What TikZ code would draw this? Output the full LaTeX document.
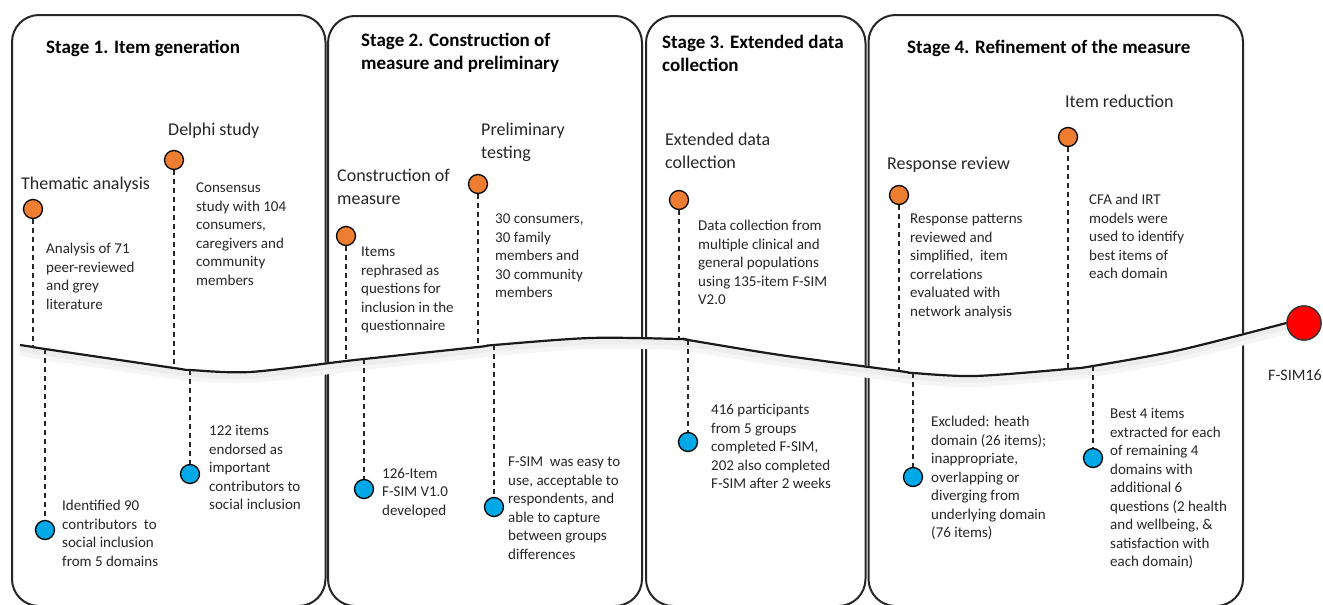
\documentclass[tikz,border=0pt]{standalone}
\usepackage{fontspec}
\setmainfont{Carlito}
\definecolor{pinorange}{RGB}{237,125,49}
\definecolor{pinblue}{RGB}{0,168,232}
\tikzset{
  panel/.style={draw=black!85, line width=2pt, rounded corners=27pt},
  opin/.style={circle, draw=black, line width=1.3pt, fill=pinorange, minimum size=19pt, inner sep=0pt},
  bpin/.style={circle, draw=black, line width=1.3pt, fill=pinblue, minimum size=19pt, inner sep=0pt},
  endpin/.style={circle, draw=black!80, line width=1.3pt, fill=red, minimum size=34pt, inner sep=0pt},
  dashline/.style={line width=1.7pt, dash pattern=on 5pt off 4pt, black!85},
  stagehead/.style={anchor=north west, inner sep=0pt, align=left, font=\fontsize{19}{23}\selectfont\bfseries, execute at begin node=\strut},
  subhead/.style={anchor=north west, inner sep=0pt, align=left, font=\fontsize{18}{23}\selectfont, text=black!85, execute at begin node=\strut},
  info/.style={anchor=north west, inner sep=0pt, yshift=-3pt, align=left, font=\fontsize{15}{18.5}\selectfont, text=black!85, execute at begin node=\strut},
}
\begin{document}
\begin{tikzpicture}[x=1pt, y=-1pt]
  \useasboundingbox (0,0) rectangle (1323,605);
  % stage panels
  \draw[panel] (12,15) rectangle (325.5,606);
  \draw[panel] (328,16) rectangle (642,606);
  \draw[panel] (646,16) rectangle (865.5,606);
  \draw[panel] (868.5,15) rectangle (1243,606);
  \node[stagehead] (h1) at (46,37) {Stage 1. Item generation};
  \node[stagehead] (h2) at (361,33) {Stage 2. Construction of\\measure and preliminary};
  \node[stagehead] (h3) at (662,35) {Stage 3. Extended data\\collection};
  \node[stagehead] (h4) at (907,37) {Stage 4. Refinement of the measure};
  % points on the timeline
  \coordinate (t1a) at (33,347);
  \coordinate (t1b) at (45,349);
  \coordinate (t1c) at (174,368);
  \coordinate (t1d) at (190,370);
  \coordinate (t2a) at (346,361);
  \coordinate (t2b) at (364,359);
  \coordinate (t2c) at (478,347);
  \coordinate (t2d) at (494,345);
  \coordinate (t3a) at (679,339);
  \coordinate (t3b) at (688,340);
  \coordinate (t4a) at (899,371);
  \coordinate (t4b) at (913,373);
  \coordinate (t4c) at (1068,369);
  \coordinate (t4d) at (1093,366);
  \node[endpin] (fsim) at (1304,323) {};
  % timeline with its soft shadow
  \draw[line width=2.2pt, black!90,
        preaction={draw, line width=12pt, black!4, transform canvas={yshift=-5pt}},
        preaction={draw, line width=5pt, black!7, transform canvas={yshift=-4pt}}]
    plot[smooth] coordinates {(20,345) (t1a) (t1b) (t1c) (t1d) (250,372) (t2a) (t2b)
      (t2c) (t2d) (590,338) (t3a) (t3b) (780,355) (t4a) (t4b) (975,376) (t4c) (t4d)
      (1180,350) (fsim.west)};
  \node[endpin] at (fsim) {};
  \node[font=\fontsize{16}{19}\selectfont, text=black!85, inner sep=0pt] (flabel) at (1295,375) {F-SIM16};
  % stage 1
  \node[opin] (p1a) at (33,209) {};
  \node[subhead] (s1a) at (21,173) {Thematic analysis};
  \node[info] (d1a) at (46,240) {Analysis of 71\\peer-reviewed\\and grey\\literature};
  \node[bpin] (b1a) at (45,530) {};
  \node[info] (e1a) at (62,497) {Identified 90\\contributors\ \ to\\social inclusion\\from 5 domains};
  \draw[dashline] (p1a) -- (t1a);
  \draw[dashline] (t1b) -- (b1a);
  \node[opin] (p1b) at (174,160) {};
  \node[subhead] (s1b) at (168,119) {Delphi study};
  \node[info] (d1b) at (196,180) {Consensus\\study with 104\\consumers,\\caregivers and\\community\\members};
  \node[bpin] (b1b) at (190,474) {};
  \node[info] (e1b) at (209,422) {122 items\\endorsed as\\important\\contributors to\\social inclusion};
  \draw[dashline] (p1b) -- (t1c);
  \draw[dashline] (t1d) -- (b1b);
  % stage 2
  \node[opin] (p2a) at (346,236) {};
  \node[subhead] (s2a) at (337,169) {Construction of\\measure};
  \node[info] (d2a) at (361,244) {Items\\rephrased as\\questions for\\inclusion in the\\questionnaire};
  \node[bpin] (b2a) at (364,489) {};
  \node[info] (e2a) at (382,465) {126-Item\\F-SIM V1.0\\developed};
  \draw[dashline] (p2a) -- (t2a);
  \draw[dashline] (t2b) -- (b2a);
  \node[opin] (p2b) at (478,184) {};
  \node[subhead] (s2b) at (481,123) {Preliminary\\testing};
  \node[info] (d2b) at (495,211) {30 consumers,\\30 family\\members and\\30 community\\members};
  \node[bpin] (b2b) at (494,507) {};
  \node[info] (e2b) at (508,454) {F-SIM\ \ was easy to\\use, acceptable to\\respondents, and\\able to capture\\between groups\\differences};
  \draw[dashline] (p2b) -- (t2c);
  \draw[dashline] (t2d) -- (b2b);
  % stage 3
  \node[opin] (p3a) at (679,200) {};
  \node[subhead] (s3a) at (665,133) {Extended data\\collection};
  \node[info] (d3a) at (698,217) {Data collection from\\multiple clinical and\\general populations\\using 135-item F-SIM\\V2.0};
  \node[bpin] (b3a) at (688,442) {};
  \node[info] (e3a) at (711,401) {416 participants\\from 5 groups\\completed F-SIM,\\202 also completed\\F-SIM after 2 weeks};
  \draw[dashline] (p3a) -- (t3a);
  \draw[dashline] (t3b) -- (b3a);
  % stage 4
  \node[opin] (p4a) at (899,195) {};
  \node[subhead] (s4a) at (887,153) {Response review};
  \node[info] (d4a) at (910,211) {Response patterns\\reviewed and\\simplified,\ \ item\\correlations\\evaluated with\\network analysis};
  \node[bpin] (b4a) at (913,477) {};
  \node[info] (e4a) at (931,413) {Excluded: heath\\domain (26 items);\\inappropriate,\\overlapping or\\diverging from\\underlying domain\\(76 items)};
  \draw[dashline] (p4a) -- (t4a);
  \draw[dashline] (t4b) -- (b4a);
  \node[opin] (p4b) at (1068,137) {};
  \node[subhead] (s4b) at (1065,91) {Item reduction};
  \node[info] (d4b) at (1089,191) {CFA and IRT\\models were\\used to identify\\best items of\\each domain};
  \node[bpin] (b4b) at (1093,458) {};
  \node[info] (e4b) at (1110,405) {Best 4 items\\extracted for each\\of remaining 4\\domains with\\additional 6\\questions (2 health\\and wellbeing, \&\\satisfaction with\\each domain)};
  \draw[dashline] (p4b) -- (t4c);
  \draw[dashline] (t4d) -- (b4b);
\end{tikzpicture}
\end{document}
